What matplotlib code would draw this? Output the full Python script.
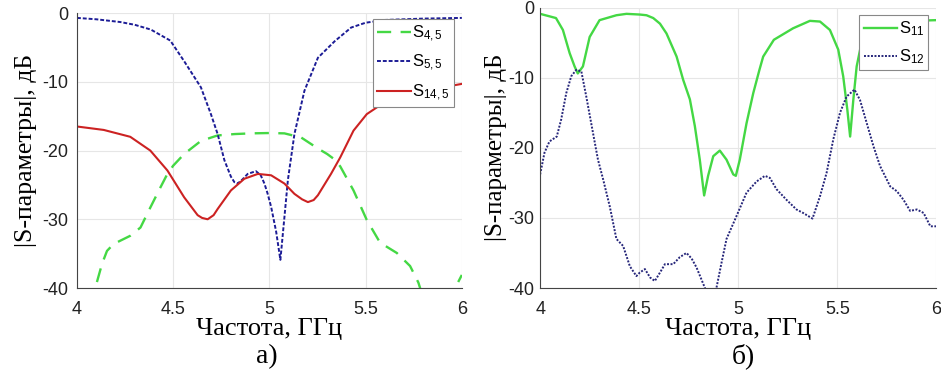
import numpy as np
import matplotlib
matplotlib.use("Agg")
import matplotlib.pyplot as plt

plt.rcParams['mathtext.fontset'] = 'custom'
plt.rcParams['mathtext.rm'] = 'Liberation Sans'
plt.rcParams['mathtext.it'] = 'Liberation Sans'

# ---- Panel a) ----
f55 = [4.0, 4.1, 4.225, 4.3, 4.384, 4.485, 4.557, 4.644, 4.696, 4.731, 4.766, 4.8, 4.818, 4.835,
       4.86, 4.887, 4.93, 4.955, 4.974, 4.99, 5.009, 5.035, 5.057, 5.078, 5.096, 5.13, 5.182,
       5.252, 5.339, 5.425, 5.5, 5.6, 5.8, 6.0]
s55 = [-0.7, -0.9, -1.3, -1.7, -2.4, -4.0, -7.0, -10.8, -14.7, -17.6, -21.4, -23.8, -24.6, -24.8,
       -24.2, -23.4, -23.0, -23.6, -24.8, -26.2, -28.2, -31.8, -35.9, -29.7, -24.3, -17.6, -11.3,
       -6.5, -4.1, -2.1, -1.4, -1.0, -0.8, -0.7]

f145 = [4.0, 4.139, 4.277, 4.381, 4.47, 4.557, 4.627, 4.65, 4.679, 4.71, 4.731, 4.8, 4.87, 4.94,
        5.009, 5.078, 5.13, 5.17, 5.2, 5.23, 5.252, 5.32, 5.368, 5.437, 5.506, 5.57, 5.7, 5.8, 5.9, 6.0]
s145 = [-16.5, -17.0, -18.0, -20.0, -22.9, -26.8, -29.4, -29.8, -30.0, -29.4, -28.5, -25.8, -24.1, -23.4,
        -23.6, -24.8, -26.3, -27.1, -27.5, -27.2, -26.5, -23.4, -21.0, -17.1, -14.7, -13.5, -12.0, -11.3, -10.8, -10.3]

f45 = [4.08, 4.095, 4.13, 4.156, 4.19, 4.277, 4.33, 4.381, 4.433, 4.468, 4.5, 4.557, 4.644, 4.731,
       4.82, 4.905, 5.0, 5.078, 5.165, 5.252, 5.3, 5.339, 5.368, 5.437, 5.506, 5.575, 5.662, 5.731,
       5.774, 5.8, 5.85, 5.9, 5.94, 5.965, 6.0]
s45 = [-42.5, -40.0, -36.5, -34.6, -33.6, -32.4, -31.2, -28.3, -25.4, -23.5, -22.2, -20.5, -18.6, -17.8,
       -17.6, -17.5, -17.45, -17.5, -18.1, -19.7, -20.5, -21.3, -22.3, -25.8, -30.1, -33.4, -34.9, -36.8,
       -39.2, -41.5, -44.0, -45.0, -43.0, -40.0, -38.1]

# ---- Panel б) ----
f11 = [4.0, 4.08, 4.115, 4.149, 4.174, 4.19, 4.216, 4.25, 4.3, 4.385, 4.436, 4.503, 4.537, 4.571,
       4.605, 4.638, 4.689, 4.722, 4.756, 4.781, 4.806, 4.828, 4.848, 4.874, 4.907, 4.941, 4.975,
       4.988, 5.008, 5.042, 5.076, 5.107, 5.126, 5.18, 5.277, 5.362, 5.413, 5.463, 5.505, 5.53,
       5.551, 5.565, 5.581, 5.598, 5.632, 5.666, 5.75, 6.0]
s11 = [-0.9, -1.5, -3.2, -6.5, -8.4, -9.4, -8.4, -4.2, -1.8, -1.1, -0.9, -1.0, -1.1, -1.5,
       -2.3, -3.7, -7.0, -10.3, -13.1, -16.9, -21.7, -26.8, -24.0, -21.2, -20.4, -21.7, -23.8,
       -24.0, -21.7, -16.5, -12.2, -8.9, -7.0, -4.6, -2.96, -1.9, -2.0, -3.2, -6.0, -9.8,
       -14.6, -18.4, -13.2, -8.4, -3.7, -2.7, -2.0, -1.8]

f12 = [4.0, 4.022, 4.047, 4.084, 4.106, 4.132, 4.157, 4.182, 4.208, 4.233, 4.267, 4.292, 4.318,
       4.351, 4.385, 4.419, 4.453, 4.486, 4.503, 4.529, 4.555, 4.579, 4.605, 4.63, 4.672, 4.705,
       4.739, 4.765, 4.79, 4.832, 4.86, 4.89, 4.915, 4.941, 4.992, 5.042, 5.093, 5.135, 5.16,
       5.193, 5.243, 5.294, 5.328, 5.375, 5.413, 5.446, 5.48, 5.514, 5.547, 5.587, 5.615, 5.649,
       5.683, 5.716, 5.767, 5.801, 5.834, 5.868, 5.902, 5.936, 5.97, 6.0]
s12 = [-23.8, -20.7, -19.1, -18.4, -16.0, -12.2, -9.8, -8.9, -9.1, -12.7, -17.9, -21.7, -24.5,
       -28.3, -33.0, -34.0, -36.9, -38.3, -37.8, -37.3, -38.5, -39.0, -37.8, -36.6, -36.6, -35.6,
       -35.0, -35.8, -37.1, -40.0, -42.0, -40.0, -36.5, -33.0, -29.7, -26.4, -24.8, -24.0, -24.3,
       -25.9, -27.4, -28.8, -29.3, -30.1, -26.9, -23.6, -18.8, -15.0, -12.7, -11.7, -13.2, -16.5,
       -19.8, -22.6, -25.5, -26.2, -27.4, -29.0, -28.8, -29.3, -31.2, -31.2]

xticks = [4, 4.5, 5, 5.5, 6]
xtick_labels = ['4', '4.5', '5', '5.5', '6']
yticks = [-40, -30, -20, -10, 0]
ytick_labels = ['-40', '-30', '-20', '-10', '0']

fig = plt.figure(figsize=(9.41, 3.71), dpi=100)
ax1 = fig.add_axes([0.0818, 0.2237, 0.409, 0.741])
ax2 = fig.add_axes([0.574, 0.2237, 0.421, 0.756])

green = '#44d844'
navy = '#1c1c96'
red = '#cc2222'
navy2 = '#26267a'

ax1.plot(f45, s45, color=green, lw=1.7, ls=(0, (6, 4)), label='S$_{4,5}$')
ax1.plot(f55, s55, color=navy, lw=1.4, ls=(0, (2, 1)), label='S$_{5,5}$')
ax1.plot(f145, s145, color=red, lw=1.5, label='S$_{14,5}$')

ax2.plot(f11, s11, color=green, lw=1.7, label='S$_{11}$')
ax2.plot(f12, s12, color=navy2, lw=1.4, ls=(0, (1, 0.8)), label='S$_{12}$')

for ax, ypad in ((ax1, 6), (ax2, 4)):
    ax.set_xlim(4, 6)
    ax.set_ylim(-40, 0)
    ax.set_xticks(xticks)
    ax.set_xticklabels(xtick_labels, fontsize=13, family='Liberation Sans')
    ax.set_yticks(yticks)
    ax.set_yticklabels(ytick_labels, fontsize=13, family='Liberation Sans')
    ax.grid(True, color='#e6e6e6', lw=0.8)
    ax.set_axisbelow(True)
    ax.tick_params(axis='x', length=0, pad=9, colors='#222222')
    ax.tick_params(axis='y', length=0, pad=ypad, colors='#222222')
    for s in ('top', 'right'):
        ax.spines[s].set_visible(False)
    for s in ('left', 'bottom'):
        ax.spines[s].set_color('#444444')
        ax.spines[s].set_linewidth(0.8)
    ax.set_xlabel('Частота, ГГц', family='Liberation Serif', fontsize=19, labelpad=0)
ax1.set_ylabel('|S-параметры|, дБ', family='Liberation Serif', fontsize=18.5, labelpad=4)
ax2.set_ylabel('|S-параметры|, дБ', family='Liberation Serif', fontsize=18, labelpad=1)

common = dict(fontsize=12, frameon=True, fancybox=False, edgecolor='#888888', framealpha=1,
              borderpad=0.25, labelspacing=0.55, handlelength=2.0, handletextpad=0.1,
              borderaxespad=0)
leg1 = ax1.legend(loc='upper right', bbox_to_anchor=(0.979, 0.978), **common)
leg2 = ax2.legend(loc='upper right', bbox_to_anchor=(0.98, 0.972), **common)
for leg in (leg1, leg2):
    leg.get_frame().set_linewidth(0.8)
    for t in leg.get_texts():
        t.set_family('Liberation Sans')

fig.text(0.284, 0.005, 'а)', family='Liberation Serif', fontsize=20, ha='center', va='bottom')
fig.text(0.79, 0.005, 'б)', family='Liberation Serif', fontsize=20, ha='center', va='bottom')

fig.savefig('out.png', dpi=100)
